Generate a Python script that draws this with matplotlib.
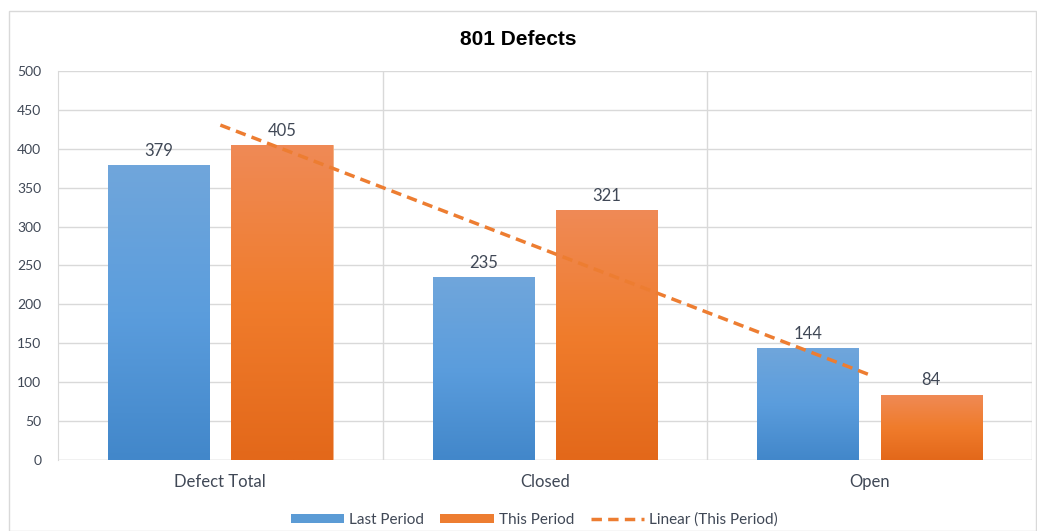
import numpy as np
import matplotlib.pyplot as plt
from matplotlib.colors import LinearSegmentedColormap
from matplotlib.patches import Rectangle
from matplotlib.lines import Line2D

categories = ["Defect Total", "Closed", "Open"]
last_period = [379, 235, 144]
this_period = [405, 321, 84]
y_ticks = [0, 50, 100, 150, 200, 250, 300, 350, 400, 450, 500]

plt.rcParams['font.family'] = ['Lato', 'DejaVu Sans']
TEXT = "#404856"
GRID = "#D9D9D9"

fig = plt.figure(figsize=(10.37, 5.31), dpi=100)
ax = fig.add_axes([0.056, 0.1337, 0.939, 0.7326])

x = np.arange(len(categories))
width = 0.312
offset = 0.19

blue_cmap = LinearSegmentedColormap.from_list("b", ["#4287CA", "#5B9DDD", "#70A6DB"])
orange_cmap = LinearSegmentedColormap.from_list("o", ["#E3681A", "#F07C2C", "#EF8A56"])

bars_last = ax.bar(x - offset, last_period, width, color="#5B9BD5", zorder=2,
                   edgecolor="#9DC3E6", linewidth=0.6)
bars_this = ax.bar(x + offset, this_period, width, color="#ED7D31", zorder=2,
                   edgecolor="#F4B183", linewidth=0.6)

grad = np.linspace(0, 1, 256).reshape(-1, 1)
for bars, cmap in [(bars_last, blue_cmap), (bars_this, orange_cmap)]:
    for b in bars:
        x0, y0 = b.get_x(), b.get_y()
        w, h = b.get_width(), b.get_height()
        im = ax.imshow(grad, cmap=cmap, aspect="auto", origin="lower",
                       extent=[x0, x0 + w, y0, y0 + h], zorder=2.5)
        im.set_clip_path(b)

for bars, vals in [(bars_last, last_period), (bars_this, this_period)]:
    for b, v in zip(bars, vals):
        ax.text(b.get_x() + b.get_width() / 2, v + 8, str(v), ha="center",
                va="bottom", fontsize=12, color=TEXT, zorder=4)

# linear trend of This Period
coef = np.polyfit(x, this_period, 1)
trend = np.polyval(coef, x)
ax.plot(x, trend, color="#ED7D31", linestyle=(0, (3, 1.8)), linewidth=2.5, zorder=3)

ax.set_xlim(-0.5, 2.5)
ax.set_ylim(0, 500)
ax.set_yticks(y_ticks)
ax.set_xticks(x)
ax.set_xticklabels(categories, fontsize=12, color=TEXT)
ax.tick_params(axis="y", labelsize=10, colors=TEXT, length=0, pad=12)
ax.tick_params(axis="x", length=0, pad=10)
ax.yaxis.grid(True, color=GRID, linewidth=1, zorder=0)
for xv in [0.5, 1.5, 2.5]:
    ax.axvline(xv, color=GRID, linewidth=1, zorder=0)
ax.set_axisbelow(True)
for s in ["top", "right", "bottom"]:
    ax.spines[s].set_visible(False)
ax.spines["left"].set_color(GRID)
ax.axhline(0, color=GRID, linewidth=1, zorder=1)

fig.text(0.5, 0.925, "801 Defects", ha="center", va="center",
         fontsize=15, fontweight="bold", color="#000000", family=["Liberation Sans", "DejaVu Sans"])

handles = [
    Rectangle((0, 0), 1, 1, facecolor="#5B9BD5"),
    Rectangle((0, 0), 1, 1, facecolor="#ED7D31"),
    Line2D([], [], color="#ED7D31", linestyle=(0, (3, 1.8)), linewidth=2.5),
]
leg = fig.legend(handles, ["Last Period", "This Period", "Linear (This Period)"],
                 loc="center", bbox_to_anchor=(0.515, 0.021), ncol=3, frameon=False,
                 fontsize=11, handlelength=3.5, handleheight=0.5, columnspacing=1.1,
                 handletextpad=0.3)
for t in leg.get_texts():
    t.set_color(TEXT)

fig.patches.append(Rectangle((0.009, 0.0), 0.99, 0.98, transform=fig.transFigure,
                             fill=False, edgecolor="#D9D9D9", linewidth=1))

fig.savefig("out.png", dpi=100)
